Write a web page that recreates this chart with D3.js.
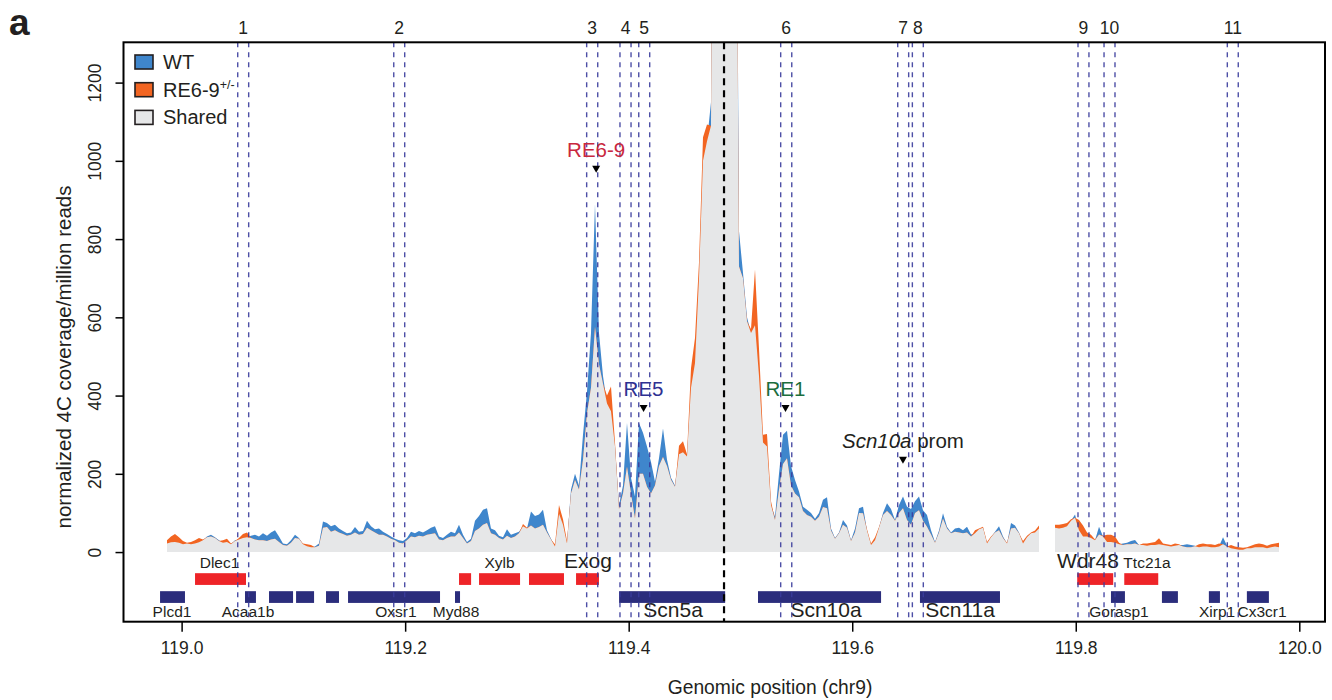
<!DOCTYPE html>
<html>
<head>
<meta charset="utf-8">
<script src="https://cdn.jsdelivr.net/npm/d3@7"></script>
<style>
  html, body { margin: 0; padding: 0; background: #fff; }
  svg { display: block; font-family: "Liberation Sans", Arial, Helvetica, sans-serif; }
</style>
</head>
<body>
<svg id="chart" width="1332" height="700"></svg>
<script>
// 4C-seq coverage around the Scn5a/Scn10a locus (chr9), WT vs RE6-9+/-.
// Coverage is binned; bin i starts at binStart + i * binSize (Mb).
const binStart = 118.9869;
const binSize = 0.003579;

// normalized 4C coverage / million reads, WT
const wtCoverage = [
  22,25,26,24,20,22,20,22,25,30,40,44,38,30,24,26,20,30,32,36,
  38,42,44,40,48,42,50,56,40,22,20,30,44,36,20,15,12,14,22,78,
  74,66,70,60,54,48,50,64,52,54,80,66,58,60,52,46,40,34,30,28,
  36,52,48,54,50,56,62,66,40,36,44,52,48,70,44,26,34,80,92,108,
  112,60,56,42,38,58,44,48,52,66,60,104,92,96,108,56,34,14,98,70,
  22,160,200,170,300,410,560,890,560,450,380,360,270,120,170,330,190,142,330,305,
  270,230,180,240,316,236,190,170,250,255,244,420,483,700,1000,1050,1150,3000,4000,5000,
  4500,3500,2500,820,713,600,560,580,450,280,270,120,90,200,300,310,220,184,155,116,
  108,100,85,100,134,140,60,36,50,82,68,30,60,112,116,55,18,30,62,100,
  125,110,82,120,142,116,110,130,142,107,95,56,26,55,99,65,50,60,62,56,
  65,45,48,58,62,22,38,52,66,40,22,74,68,50,22,38,48,50,60,null,
  null,null,62,60,62,66,80,96,56,40,40,36,30,65,40,26,26,24,20,22,
  24,28,31,18,18,16,18,18,20,18,16,14,16,18,18,20,18,16,12,14,
  14,12,12,14,38,16,10,8,6,6,10,10,12,12,12,10,12,14,12
];

// normalized 4C coverage / million reads, RE6-9+/-
const mutCoverage = [
  30,40,46,38,28,24,26,30,36,32,38,40,36,28,30,34,22,28,36,46,
  50,36,32,30,30,28,32,34,26,18,16,24,36,34,22,20,18,12,16,62,
  64,52,56,50,46,42,44,50,44,46,62,56,50,44,44,40,34,30,24,22,
  30,40,38,42,40,44,46,48,32,30,36,40,40,50,36,22,28,54,60,70,
  74,48,44,36,32,42,36,40,48,72,62,68,60,64,70,50,32,20,120,84,
  28,150,184,160,236,355,420,576,480,430,400,423,280,110,150,218,150,86,200,200,
  167,150,170,220,243,220,185,167,272,283,250,470,547,740,1060,1093,1090,2900,3900,5000,
  4600,3400,2400,730,700,590,570,722,520,300,302,130,82,160,225,240,170,150,140,105,
  95,90,80,90,115,112,55,34,48,70,62,28,50,100,99,58,22,38,64,95,
  105,95,80,100,112,82,70,100,107,80,65,45,24,50,85,60,48,52,50,48,
  50,40,56,60,65,26,40,50,56,36,24,60,62,48,28,42,50,55,68,null,
  null,null,70,70,72,74,84,88,82,68,50,44,32,45,42,44,44,40,24,18,
  20,20,22,18,22,22,24,26,35,22,20,18,22,20,14,12,12,15,20,22,
  20,20,18,22,20,14,18,14,12,11,12,16,20,22,20,16,20,22,24
];

const seriesNames = ["WT", "RE6-9", "Shared"];
const seriesColors = ["#3f86cc", "#f26522", "#e6e7e8"];

// Numbered sites, each marked by a pair of dashed lines (Mb)
const siteLabels = ["1","2","3","4","5","6","7","8","9","10","11"];
const siteStarts = [119.0502,119.1898,119.3624,119.3922,119.4090,119.5360,119.6407,119.6538,119.8020,119.8253,119.9356];
const siteEnds   = [119.0600,119.1996,119.3723,119.4021,119.4188,119.5459,119.6505,119.6636,119.8118,119.8351,119.9454];

// 4C viewpoint (Mb)
const viewpoint = 119.4853;

// Highlighted regulatory elements
const annoLabels = ["RE6-9", "RE5", "RE1", "Scn10a prom"];
const annoPositions = [119.3709, 119.4133, 119.5403, 119.6454];
const annoHeights = [980, 368, 368, 236];
const annoColors = ["#c9283e", "#2e3192", "#1b6e3d", "#231f20"];

// Genes: strand "+" (red, upper row) and "-" (navy, lower row); start/end in Mb
const plusGeneStarts = [119.0120,119.2482,119.2661,119.3108,119.3529,119.8013,119.8434];
const plusGeneEnds   = [119.0576,119.2590,119.3028,119.3421,119.3734,119.8335,119.8738];
const minusGeneStarts = [118.9807,119.0567,119.0782,119.1024,119.1292,119.1489,119.2446,119.3914,119.5157,119.6606,119.8315,119.8771,119.9191,119.9531];
const minusGeneEnds   = [119.0030,119.0665,119.0997,119.1185,119.1408,119.2312,119.2491,119.4863,119.6258,119.7322,119.8440,119.8914,119.9290,119.9728];

// Gene names: position (Mb), row ("top" above the red row, "bottom" below the navy row), size class
const geneNames     = ["Dlec1","Xylb","Exog","Plcd1","Acaa1b","Oxsr1","Myd88","Scn5a","Scn10a","Scn11a","Wdr48","Ttc21a","Gorasp1","Xirp1","Cx3cr1"];
const geneNamePos   = [119.0339,119.2845,119.3636,118.9914,119.0594,119.1918,119.2455,119.4397,119.5766,119.6965,119.8110,119.8638,119.8387,119.9264,119.9667];
const geneNameRow   = ["top","top","top","bottom","bottom","bottom","bottom","bottom","bottom","bottom","top","top","bottom","bottom","bottom"];
const geneNameLarge = [false,false,true,false,false,false,false,true,true,true,true,false,false,false,false];

const xTicks = [119.0, 119.2, 119.4, 119.6, 119.8, 120.0];
const yTicks = [0, 200, 400, 600, 800, 1000, 1200];

// ---------------------------------------------------------------
const svg = d3.select("#chart");
const plot = { left: 123.5, right: 1325, top: 42.3, bottom: 621.7 };
const ink = "#231f20";

const x = d3.scaleLinear().domain([118.948, 120.023]).range([plot.left, plot.right]);
const y = d3.scaleLinear().domain([-178, 1303]).range([plot.bottom, plot.top]);

svg.append("defs").append("clipPath").attr("id", "plotClip")
  .append("rect")
  .attr("x", plot.left).attr("y", plot.top)
  .attr("width", plot.right - plot.left).attr("height", plot.bottom - plot.top);

const bins = wtCoverage.map((w, i) => ({
  pos: binStart + i * binSize,
  wt: w,
  mut: mutCoverage[i]
}));
const isDefined = d => d.wt != null && d.mut != null;

const areaFor = acc => d3.area()
  .defined(isDefined)
  .x(d => x(d.pos))
  .y0(y(0))
  .y1(d => y(acc(d)));

// Coloured excess on top of the shared (minimum) coverage
const cov = svg.append("g").attr("clip-path", "url(#plotClip)");
cov.append("path").datum(bins).attr("d", areaFor(d => d.wt)).attr("fill", seriesColors[0]);
cov.append("path").datum(bins).attr("d", areaFor(d => d.mut)).attr("fill", seriesColors[1]);
cov.append("path").datum(bins).attr("d", areaFor(d => Math.min(d.wt, d.mut))).attr("fill", seriesColors[2]);

// Gene track
const trackPlus = [-84, -54];
const trackMinus = [-130, -100];
svg.append("g").selectAll("rect").data(plusGeneStarts).join("rect")
  .attr("x", (d) => x(d))
  .attr("width", (d, i) => x(plusGeneEnds[i]) - x(d))
  .attr("y", y(trackPlus[1]))
  .attr("height", y(trackPlus[0]) - y(trackPlus[1]))
  .attr("fill", "#ee2428");
svg.append("g").selectAll("rect").data(minusGeneStarts).join("rect")
  .attr("x", (d) => x(d))
  .attr("width", (d, i) => x(minusGeneEnds[i]) - x(d))
  .attr("y", y(trackMinus[1]))
  .attr("height", y(trackMinus[0]) - y(trackMinus[1]))
  .attr("fill", "#2b2d7c");

svg.append("g").selectAll("text").data(geneNames).join("text")
  .attr("x", (d, i) => x(geneNamePos[i]))
  .attr("y", (d, i) => geneNameRow[i] === "top" ? y(-41) : y(-166))
  .attr("text-anchor", "middle")
  .attr("font-size", (d, i) => geneNameLarge[i] ? 21 : 15.5)
  .attr("fill", ink)
  .text(d => d);

// Dashed site markers
const sites = svg.append("g");
siteStarts.forEach((s, i) => {
  [s, siteEnds[i]].forEach(p => {
    sites.append("line")
      .attr("x1", x(p)).attr("x2", x(p))
      .attr("y1", plot.top).attr("y2", plot.bottom)
      .attr("stroke", "#3a3c9c").attr("stroke-opacity", 0.9)
      .attr("stroke-width", 1.4)
      .attr("stroke-dasharray", "5,5");
  });
  sites.append("text")
    .attr("x", x((s + siteEnds[i]) / 2))
    .attr("y", 34)
    .attr("text-anchor", "middle")
    .attr("font-size", 17.5)
    .attr("fill", ink)
    .text(siteLabels[i]);
});

// Viewpoint
svg.append("line")
  .attr("x1", x(viewpoint)).attr("x2", x(viewpoint))
  .attr("y1", plot.top).attr("y2", plot.bottom)
  .attr("stroke", "#000").attr("stroke-width", 2.2)
  .attr("stroke-dasharray", "7,5");

// Element annotations
const anno = svg.append("g");
annoLabels.forEach((label, i) => {
  const ax = x(annoPositions[i]);
  const ay = y(annoHeights[i]);
  anno.append("path")
    .attr("d", `M${ax - 4},${ay - 3} L${ax + 4},${ay - 3} L${ax},${ay + 4} Z`)
    .attr("fill", "#000");
  const t = anno.append("text")
    .attr("x", ax).attr("y", ay - 12)
    .attr("text-anchor", "middle")
    .attr("font-size", 20.5)
    .attr("fill", annoColors[i]);
  if (label === "Scn10a prom") {
    t.append("tspan").attr("font-style", "italic").text("Scn10a");
    t.append("tspan").text(" prom");
  } else {
    t.text(label);
  }
});

// Axes
const xAxis = svg.append("g")
  .attr("transform", `translate(0,${plot.bottom})`)
  .call(d3.axisBottom(x).tickValues(xTicks).tickFormat(d3.format(".1f")).tickSize(10).tickPadding(10));
xAxis.select(".domain").remove();
xAxis.selectAll("line").attr("stroke", "#000").attr("stroke-width", 1.5);
xAxis.selectAll("text").attr("font-size", 17.5).attr("fill", ink)
  .attr("font-family", "Liberation Sans, Arial, sans-serif");

const yAxis = svg.append("g")
  .attr("transform", `translate(${plot.left},0)`)
  .call(d3.axisLeft(y).tickValues(yTicks).tickFormat(d3.format("d")).tickSize(8).tickPadding(6));
yAxis.select(".domain").remove();
yAxis.selectAll("line").attr("stroke", "#000").attr("stroke-width", 1.5);
yAxis.selectAll("text")
  .attr("font-size", 17.5).attr("fill", ink)
  .attr("font-family", "Liberation Sans, Arial, sans-serif")
  .attr("text-anchor", "middle")
  .attr("dy", null)
  .attr("x", null)
  .attr("transform", "translate(-23,0) rotate(-90)");

// Frame
svg.append("rect")
  .attr("x", plot.left).attr("y", plot.top)
  .attr("width", plot.right - plot.left).attr("height", plot.bottom - plot.top)
  .attr("fill", "none").attr("stroke", "#000").attr("stroke-width", 2);

// Axis titles
svg.append("text")
  .attr("x", 770).attr("y", 694)
  .attr("text-anchor", "middle").attr("font-size", 19.3).attr("fill", ink)
  .text("Genomic position (chr9)");
svg.append("text")
  .attr("transform", "translate(71,357) rotate(-90)")
  .attr("text-anchor", "middle").attr("font-size", 20.5).attr("fill", ink)
  .text("normalized 4C coverage/million reads");

// Panel letter
svg.append("text")
  .attr("x", 9).attr("y", 35)
  .attr("font-size", 37).attr("font-weight", "bold").attr("fill", ink)
  .text("a");

// Legend
const legend = svg.append("g");
seriesNames.forEach((name, i) => {
  const ly = 55 + i * 27.7;
  legend.append("rect")
    .attr("x", 135).attr("y", ly)
    .attr("width", 18).attr("height", 14)
    .attr("fill", seriesColors[i]).attr("stroke", ink).attr("stroke-width", 1.6);
  const t = legend.append("text")
    .attr("x", 163).attr("y", ly + 14)
    .attr("font-size", 20).attr("fill", ink)
    .text(name);
  if (name === "RE6-9") {
    t.append("tspan").attr("font-size", 12.5).attr("dy", -8).text("+/-");
  }
});
</script>
</body>
</html>
